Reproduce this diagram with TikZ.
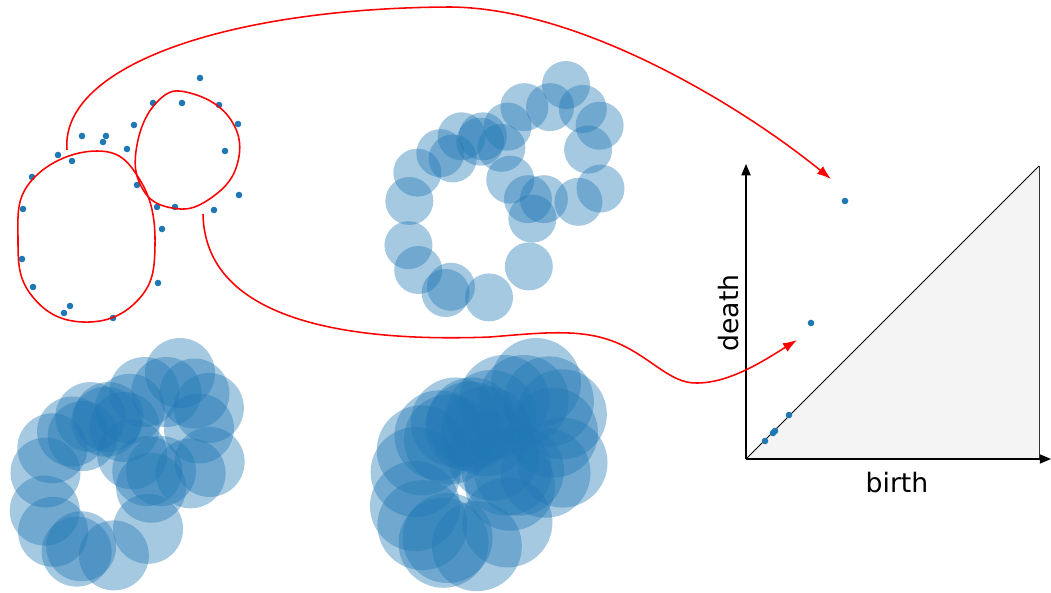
\documentclass[tikz,border=0pt]{standalone}
\usepackage{fontspec}
\setmainfont{DejaVu Sans}
\usepackage{tikz}
\usetikzlibrary{arrows.meta}
\definecolor{cloudBlue}{HTML}{1F77B4}
\definecolor{diagGray}{HTML}{F4F4F4}

\newcommand{\cloudpts}{200/78, 153/103, 182/103, 219/105, 238/124, 134/125,
  82/136, 106/136, 103/142, 127/149, 225/151, 58/155, 72/161, 32/177,
  137/185, 239/195, 23/209, 157/207, 175/207, 214/210, 162/229, 22/259,
  158/283, 33/287, 70/306, 64/313, 113/318}

\begin{document}
\begin{tikzpicture}[
  x=0.025cm, y=-0.025cm,
  pt/.style={fill=cloudBlue},
  ball/.style={fill=cloudBlue,fill opacity=0.4},
  cycleline/.style={red,line width=1.1pt},
  link/.style={-{Latex[length=10pt,width=7pt]},red,line width=1.1pt},
  axis/.style={-{Triangle[length=8pt,width=6.5pt]},line width=0.9pt},
  lbl/.style={inner sep=0pt,font=\fontsize{19}{22}\selectfont}
]
\useasboundingbox (0,0) rectangle (1051,592);

\foreach \px/\py in \cloudpts
  \fill[pt] (\px,\py) circle (3.3);

\foreach \cx/\cy/\s/\r in {566/85/0.885/24, 180/373/0.76/35, 536/383/0.68/45}
  \foreach \px/\py in \cloudpts
    \fill[ball] ({\cx+\s*(\px-200)},{\cy+\s*(\py-78)}) circle (\r);

\draw[cycleline] plot[smooth cycle,tension=0.75] coordinates {(97,151)
  (140,180) (155,245) (138,300) (83,322) (32,296) (18,240) (32,180)};
\draw[cycleline] plot[smooth cycle,tension=0.75] coordinates {(190,93)
  (231,120) (237,165) (208,200) (172,208) (142,188) (137,145) (158,101)};

\coordinate (origin) at (746,459);
\coordinate (xtip) at (1051,459);
\coordinate (ytip) at (746,164);
\coordinate (corner) at (1039,459);
\coordinate (dend) at (1039,166);

\fill[diagGray] (origin) -- (corner) -- (dend) -- cycle;
\draw[line width=0.6pt] (origin) -- (dend);
\draw[black!80,line width=0.6pt] (dend) -- (corner);
\draw[axis] (origin) -- (xtip);
\draw[axis] (origin) -- (ytip);

\node[lbl] (birthlbl) at (897,483) {birth};
\node[lbl,rotate=90] (deathlbl) at (729,313) {death};

\coordinate (hbig) at (845,201);
\coordinate (hsmall) at (811,323);
\foreach \px/\py in {845/201, 811/323, 789/415, 775/431, 773/433, 765/441}
  \fill[pt] (\px,\py) circle (3.3);

\coordinate (bigstart) at (67,150);
\coordinate (bigend) at (831,179);
\coordinate (smallstart) at (203,214);
\coordinate (smallend) at (797,340);

\draw[link] (bigstart) .. controls (60,65) and (230,8) .. (450,7)
  .. controls (580,8) and (740,105) .. (bigend);
\draw[link] (smallstart) .. controls (205,325) and (360,342) .. (490,337)
  .. controls (540,333) and (580,328) .. (615,342)
  .. controls (650,356) and (670,384) .. (697,383)
  .. controls (730,383) and (765,360) .. (smallend);
\end{tikzpicture}
\end{document}
